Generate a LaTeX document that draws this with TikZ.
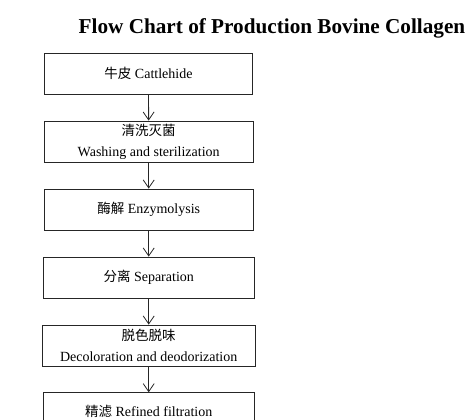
\documentclass[tikz,border=0pt]{standalone}
\usepackage{fontspec}
\setmainfont{Liberation Serif}
\newfontfamily\cjk{Noto Sans CJK SC}
\usetikzlibrary{arrows.meta}
\tikzset{
  stepbox/.style={draw=black!85, line width=0.8pt, minimum height=41bp, inner sep=0pt,
    align=center, font=\fontsize{14bp}{21bp}\selectfont},
  cjktext/.style={font=\cjk\fontsize{13.5bp}{21bp}\selectfont},
  flow/.style={draw=black!85, line width=0.8pt, -{Straight Barb[length=8bp,width=11bp,line width=0.8pt]}},
}
\begin{document}
\begin{tikzpicture}[x=1bp,y=-1bp]
\useasboundingbox (0,0) rectangle (476,419);
\clip (0,0) rectangle (476,419);
\node[font=\bfseries\fontsize{21.2bp}{24bp}\selectfont, anchor=base] (title) at (272,33) {Flow Chart of Production Bovine Collagen};
\node[stepbox, minimum width=208bp] (b1) at (148.5,73.5) {{\cjk\fontsize{13.5bp}{21bp}\selectfont 牛皮} Cattlehide};
\node[stepbox, minimum width=208.5bp] (b2) at (148.7,141.5) {{\cjk\fontsize{13.5bp}{21bp}\selectfont 清洗灭菌}\\Washing and sterilization};
\node[stepbox, minimum width=208.5bp] (b3) at (148.7,209.5) {{\cjk\fontsize{13.5bp}{21bp}\selectfont 酶解} Enzymolysis};
\node[stepbox, minimum width=210.5bp] (b4) at (148.7,277.5) {{\cjk\fontsize{13.5bp}{21bp}\selectfont 分离} Separation};
\node[stepbox, minimum width=212.5bp] (b5) at (148.7,345.5) {{\cjk\fontsize{13.5bp}{21bp}\selectfont 脱色脱味}\\Decoloration and deodorization};
\node[stepbox, minimum width=210.5bp, text depth=4bp] (b6) at (148.7,413.2) {{\cjk\fontsize{13.5bp}{21bp}\selectfont 精滤} Refined filtration};
\draw[flow] (b1) -- (b2);
\draw[flow] (b2) -- (b3);
\draw[flow] (b3) -- (b4);
\draw[flow] (b4) -- (b5);
\draw[flow] (b5) -- (b6);
\end{tikzpicture}
\end{document}
